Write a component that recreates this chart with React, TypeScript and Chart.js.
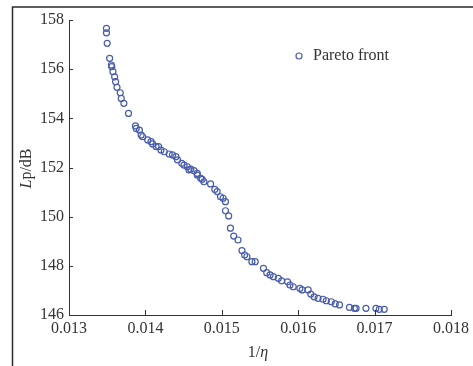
import React, { useEffect, useRef } from "react";
import { Chart, registerables } from "chart.js";

Chart.register(...registerables);

const seriesLabel = "Pareto front";

const paretoX = [
  0.01349, 0.01349, 0.0135, 0.013532, 0.013555, 0.01356, 0.013575, 0.013597, 0.01361, 0.013628,
  0.013671, 0.013684, 0.013718, 0.013779, 0.01387, 0.01388, 0.013922, 0.013944, 0.013965, 0.01403,
  0.014074, 0.014095, 0.01414, 0.014173, 0.014204, 0.014247, 0.014312, 0.014355, 0.014399, 0.01442,
  0.014476, 0.014506, 0.014549, 0.014571, 0.014594, 0.014636, 0.014679, 0.014679, 0.014723, 0.014744,
  0.014766, 0.014853, 0.014909, 0.014939, 0.014983, 0.015017, 0.015048, 0.015048, 0.01509, 0.015113,
  0.015156, 0.015212, 0.015264, 0.015299, 0.015329, 0.015394, 0.015437, 0.015545, 0.015588, 0.015632,
  0.015675, 0.01574, 0.015783, 0.015861, 0.015892, 0.015935, 0.016022, 0.016052, 0.01613, 0.016165,
  0.016208, 0.01626, 0.016325, 0.016368, 0.016433, 0.016485, 0.016541, 0.016671, 0.016736, 0.016758,
  0.016887, 0.017017, 0.017061, 0.017126,
];

const paretoY = [
  157.66, 157.48, 157.05, 156.44, 156.17, 156.1, 155.9, 155.69, 155.49, 155.26,
  155.04, 154.81, 154.61, 154.2, 153.69, 153.59, 153.52, 153.32, 153.25, 153.12,
  153.05, 152.96, 152.85, 152.85, 152.71, 152.64, 152.55, 152.51, 152.44, 152.31,
  152.17, 152.1, 152.03, 151.9, 151.93, 151.87, 151.76, 151.69, 151.56, 151.52,
  151.42, 151.33, 151.11, 151.02, 150.81, 150.75, 150.61, 150.24, 150.03, 149.53,
  149.21, 149.05, 148.62, 148.44, 148.37, 148.17, 148.17, 147.9, 147.72, 147.63,
  147.56, 147.49, 147.39, 147.35, 147.22, 147.15, 147.08, 147.02, 147.02, 146.85,
  146.74, 146.68, 146.64, 146.58, 146.54, 146.45, 146.41, 146.31, 146.27, 146.27,
  146.27, 146.27, 146.23, 146.23,
];

const xTickValues = [0.013, 0.014, 0.015, 0.016, 0.017, 0.018];
const yTickValues = [146, 148, 150, 152, 154, 156, 158];

const FONT = "'Liberation Serif', 'Times New Roman', serif";
const AXIS_COLOR = "#333333";
const TEXT_COLOR = "#333333";
const POINT_COLOR = "rgb(72, 92, 172)";

const decorPlugin = {
  id: "decor",
  afterDraw(chart: any) {
    const { ctx, chartArea } = chart;
    const xs = chart.scales.x;
    const ys = chart.scales.y;
    ctx.save();

    // outer frame (left & top)
    ctx.strokeStyle = "#2a2a2a";
    ctx.lineWidth = 1.5;
    ctx.beginPath();
    ctx.moveTo(12.5, chart.height + 2);
    ctx.lineTo(12.5, 7);
    ctx.lineTo(chart.width + 2, 7);
    ctx.stroke();

    // inward tick marks
    ctx.strokeStyle = AXIS_COLOR;
    ctx.lineWidth = 1;
    ctx.beginPath();
    for (const v of xTickValues) {
      const px = Math.round(xs.getPixelForValue(v)) + 0.5;
      ctx.moveTo(px, chartArea.bottom);
      ctx.lineTo(px, chartArea.bottom - 5);
    }
    for (const v of yTickValues) {
      const py = Math.round(ys.getPixelForValue(v)) + 0.5;
      ctx.moveTo(chartArea.left, py);
      ctx.lineTo(chartArea.left + 4, py);
    }
    ctx.stroke();

    // x title: 1/η
    ctx.fillStyle = TEXT_COLOR;
    ctx.textBaseline = "alphabetic";
    ctx.textAlign = "left";
    const normal = `16px ${FONT}`;
    const italic = `italic 16px ${FONT}`;
    ctx.font = normal;
    const w1 = ctx.measureText("1/").width;
    ctx.font = italic;
    const w2 = ctx.measureText("η").width;
    const cx = (chartArea.left + chartArea.right) / 2 - 2;
    let sx = cx - (w1 + w2) / 2;
    ctx.font = normal;
    ctx.fillText("1/", sx, 357);
    ctx.font = italic;
    ctx.fillText("η", sx + w1, 357);

    // y title: Lp/dB
    ctx.save();
    ctx.translate(31, (chartArea.top + chartArea.bottom) / 2 + 1);
    ctx.rotate(-Math.PI / 2);
    ctx.font = italic;
    const wl = ctx.measureText("L").width;
    ctx.font = normal;
    const wr = ctx.measureText("p/dB").width;
    const start = -(wl + wr) / 2;
    ctx.font = italic;
    ctx.fillText("L", start, 0);
    ctx.font = normal;
    ctx.fillText("p/dB", start + wl, 0);
    ctx.restore();

    // legend
    const lx = chartArea.right - 152;
    const ly = chartArea.top + 36;
    ctx.strokeStyle = POINT_COLOR;
    ctx.lineWidth = 1.2;
    ctx.beginPath();
    ctx.arc(lx, ly, 3, 0, Math.PI * 2);
    ctx.stroke();
    ctx.fillStyle = TEXT_COLOR;
    ctx.font = normal;
    ctx.textBaseline = "middle";
    ctx.fillText(chart.data.datasets[0].label, lx + 14, ly);

    ctx.restore();
  },
};

export default function App() {
  const canvasRef = useRef<HTMLCanvasElement | null>(null);

  useEffect(() => {
    if (!canvasRef.current) return;
    const points = paretoX.map((x, i) => ({ x, y: paretoY[i] }));
    const chart = new Chart(canvasRef.current, {
      type: "scatter",
      data: {
        datasets: [
          {
            label: seriesLabel,
            data: points,
            pointRadius: 3,
            pointHoverRadius: 3,
            pointBorderWidth: 1.2,
            borderColor: POINT_COLOR,
            backgroundColor: "rgba(0,0,0,0)",
            pointBackgroundColor: "rgba(0,0,0,0)",
            pointBorderColor: POINT_COLOR,
          },
        ],
      },
      options: {
        responsive: false,
        animation: false,
        events: [],
        layout: { padding: { top: 20, right: 19, left: 0, bottom: 0 } },
        plugins: {
          legend: { display: false },
          tooltip: { enabled: false },
          title: { display: false },
        },
        scales: {
          x: {
            type: "linear",
            min: 0.013,
            max: 0.018,
            afterFit: (s: any) => {
              s.height = 51;
            },
            afterBuildTicks: (s: any) => {
              s.ticks = xTickValues.map((v) => ({ value: v }));
            },
            grid: { display: false, drawTicks: false },
            border: { display: true, color: AXIS_COLOR, width: 1 },
            ticks: {
              padding: 4,
              color: TEXT_COLOR,
              font: { family: FONT, size: 16 },
              maxRotation: 0,
              autoSkip: false,
              callback: (v: any) => Number(v).toFixed(3),
            },
          },
          y: {
            type: "linear",
            min: 146,
            max: 158,
            afterFit: (s: any) => {
              s.width = 69;
            },
            afterBuildTicks: (s: any) => {
              s.ticks = yTickValues.map((v) => ({ value: v }));
            },
            grid: { display: false, drawTicks: false },
            border: { display: true, color: AXIS_COLOR, width: 1 },
            ticks: {
              padding: 5,
              color: TEXT_COLOR,
              font: { family: FONT, size: 16 },
              autoSkip: false,
              callback: (v: any) => String(v),
            },
          },
        },
      },
      plugins: [decorPlugin],
    });
    return () => chart.destroy();
  }, []);

  return (
    <div style={{ position: "absolute", left: 0, top: 0, width: 473, height: 366, background: "#fff" }}>
      <canvas ref={canvasRef} width={473} height={366} style={{ display: "block" }} />
    </div>
  );
}
